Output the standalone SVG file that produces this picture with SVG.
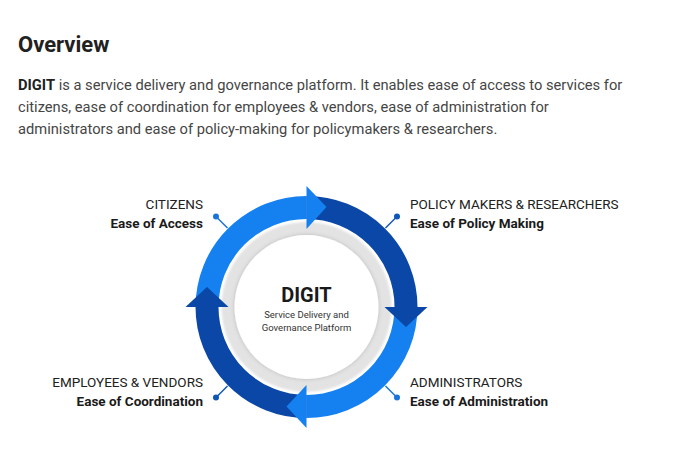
<svg xmlns="http://www.w3.org/2000/svg" width="690" height="460" viewBox="0 0 690 460">
  <style>
    text { font-family: Roboto, "Liberation Sans", sans-serif; }
    .h1 { font-size: 22px; font-weight: 700; fill: #212121; }
    .p { font-size: 14.7px; fill: #454545; }
    .pb { font-weight: 700; fill: #212121; }
    .lbl { font-size: 13.5px; fill: #212121; }
    .lblb { font-size: 13.5px; font-weight: 700; fill: #1a1a1a; }
    .arc { fill: none; stroke-width: 23; }
    .light { stroke: #1580f0; }
    .dark { stroke: #0a47a6; }
    .lightf { fill: #1580f0; }
    .darkf { fill: #0a47a6; }
    .lead { stroke-width: 1.5; fill: none; }
  </style>
  <defs>
    <filter id="soft" x="-20%" y="-20%" width="140%" height="140%">
      <feGaussianBlur stdDeviation="1.2"/>
    </filter>
    <filter id="shadow" x="-20%" y="-20%" width="140%" height="140%">
      <feDropShadow dx="0" dy="0" stdDeviation="2" flood-color="#000" flood-opacity="0.18"/>
    </filter>
  </defs>
  <rect width="690" height="460" fill="#ffffff"/>

  <g id="header">
    <text class="h1" x="18" y="52">Overview</text>
    <text class="p" x="18" y="90"><tspan class="pb">DIGIT</tspan> is a service delivery and governance platform. It enables ease of access to services for</text>
    <text class="p" x="18" y="112">citizens, ease of coordination for employees &amp; vendors, ease of administration for</text>
    <text class="p" x="18" y="134">administrators and ease of policy-making for policymakers &amp; researchers.</text>
  </g>

  <g id="digit-center">
    <circle cx="306.5" cy="307" r="85" fill="#e3e3e3" filter="url(#soft)"/>
    <circle cx="306.5" cy="307" r="72" fill="#ffffff" filter="url(#shadow)"/>
    <text x="306.5" y="302" text-anchor="middle" style="font-size:20px;font-weight:700;fill:#1a1a1a">DIGIT</text>
    <text x="306.5" y="318" text-anchor="middle" style="font-size:9.5px;fill:#333">Service Delivery and</text>
    <text x="306.5" y="331" text-anchor="middle" style="font-size:9.5px;fill:#333">Governance Platform</text>
  </g>

  <g id="cycle">
    <path class="arc light" d="M207 307 A99.5 99.5 0 0 1 306.5 207.5"/>
    <path class="arc dark" d="M306.5 207.5 A99.5 99.5 0 0 1 406 307"/>
    <path class="arc light" d="M406 307 A99.5 99.5 0 0 1 306.5 406.5"/>
    <path class="arc dark" d="M306.5 406.5 A99.5 99.5 0 0 1 207 307"/>
    <polygon class="lightf" points="306.5,186 306.5,229 326.5,207"/>
    <polygon class="darkf" points="384.5,307 427.5,307 406,327"/>
    <polygon class="lightf" points="306.5,385 306.5,428 286.5,406.5"/>
    <polygon class="darkf" points="185.5,307 228.5,307 207,287"/>
  </g>

  <g id="connectors">
    <line class="lead" x1="216" y1="216.5" x2="227.5" y2="228" stroke="#1b74dc"/>
    <circle cx="216" cy="216.5" r="3" fill="#1b74dc"/>
    <line class="lead" x1="397" y1="216.5" x2="385.5" y2="228" stroke="#0f56b8"/>
    <circle cx="397" cy="216.5" r="3" fill="#0f56b8"/>
    <line class="lead" x1="216" y1="397.5" x2="227.5" y2="386" stroke="#0f56b8"/>
    <circle cx="216" cy="397.5" r="3" fill="#0f56b8"/>
    <line class="lead" x1="397" y1="397.5" x2="385.5" y2="386" stroke="#1b74dc"/>
    <circle cx="397" cy="397.5" r="3" fill="#1b74dc"/>
  </g>

  <g id="citizens">
    <text class="lbl" x="203" y="209" text-anchor="end">CITIZENS</text>
    <text class="lblb" x="203" y="228" text-anchor="end">Ease of Access</text>
  </g>
  <g id="policy-makers">
    <text class="lbl" x="410" y="209">POLICY MAKERS &amp; RESEARCHERS</text>
    <text class="lblb" x="410" y="228">Ease of Policy Making</text>
  </g>
  <g id="employees">
    <text class="lbl" x="203" y="387" text-anchor="end">EMPLOYEES &amp; VENDORS</text>
    <text class="lblb" x="203" y="406" text-anchor="end">Ease of Coordination</text>
  </g>
  <g id="administrators">
    <text class="lbl" x="410" y="387">ADMINISTRATORS</text>
    <text class="lblb" x="410" y="406">Ease of Administration</text>
  </g>
</svg>
